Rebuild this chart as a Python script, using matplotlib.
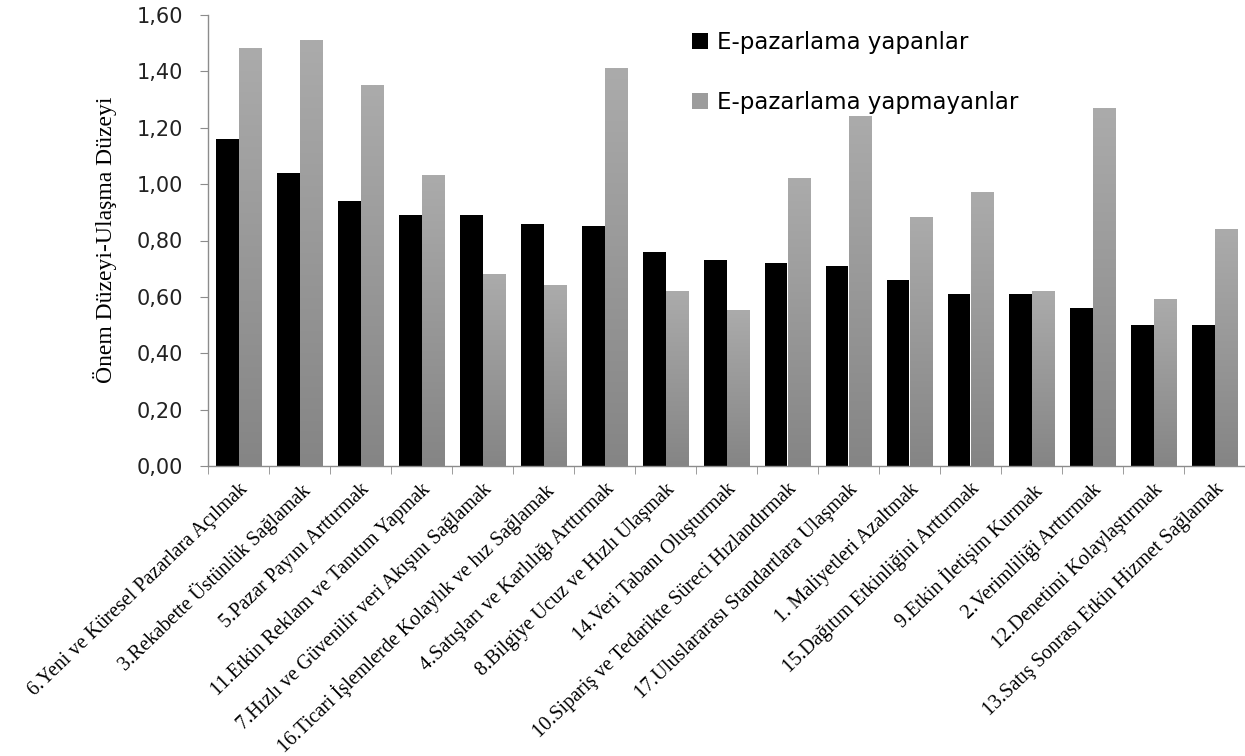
import numpy as np
import matplotlib
matplotlib.use("Agg")
import matplotlib.pyplot as plt
from matplotlib.colors import LinearSegmentedColormap
from matplotlib.patches import Patch

# ----------------------------------------------------------------------
# Data
# ----------------------------------------------------------------------
categories = [
    "6.Yeni ve Küresel Pazarlara Açılmak",
    "3.Rekabette Üstünlük Sağlamak",
    "5.Pazar Payını Arttırmak",
    "11.Etkin Reklam ve Tanıtım Yapmak",
    "7.Hızlı ve Güvenilir veri Akışını Sağlamak",
    "16.Ticari İşlemlerde Kolaylık ve hız Sağlamak",
    "4.Satışları ve Karlılığı Arttırmak",
    "8.Bilgiye Ucuz ve Hızlı Ulaşmak",
    "14.Veri Tabanı Oluşturmak",
    "10.Sipariş ve Tedarikte Süreci Hızlandırmak",
    "17.Uluslararası Standartlara Ulaşmak",
    "1. Maliyetleri Azaltmak",
    "15.Dağıtım Etkinliğini Arttırmak",
    "9.Etkin İletişim Kurmak",
    "2.Verimliliği Arttırmak",
    "12.Denetimi Kolaylaştırmak",
    "13.Satış Sonrası Etkin Hizmet Sağlamak",
]
yapanlar = [1.16, 1.04, 0.94, 0.89, 0.89, 0.86, 0.85, 0.76, 0.73,
            0.72, 0.71, 0.66, 0.61, 0.61, 0.56, 0.50, 0.50]
yapmayanlar = [1.48, 1.51, 1.35, 1.03, 0.68, 0.64, 1.41, 0.62, 0.55,
               1.02, 1.24, 0.88, 0.97, 0.62, 1.27, 0.59, 0.84]
series_names = ["E-pazarlama yapanlar", "E-pazarlama yapmayanlar"]
y_ticks = [0.0, 0.2, 0.4, 0.6, 0.8, 1.0, 1.2, 1.4, 1.6]
y_tick_labels = ["0,00", "0,20", "0,40", "0,60", "0,80",
                 "1,00", "1,20", "1,40", "1,60"]
y_title = "Önem Düzeyi-Ulaşma Düzeyi"

SANS = ["DejaVu Sans"]
SERIF = ["Liberation Serif", "DejaVu Serif"]


def main():
    fig = plt.figure(figsize=(12.45, 7.56), dpi=100)
    ax = fig.add_axes([208 / 1245, 1 - 466 / 756, 1 - 208 / 1245, 451 / 756])

    x = np.arange(len(categories))
    w = 0.37

    ax.bar(x - w / 2, yapanlar, width=w, color="black", zorder=2)

    # gray bars with a vertical gradient (light top, darker bottom)
    grad = LinearSegmentedColormap.from_list("g", ["#858585", "#ababab"])
    ramp = np.linspace(0, 1, 256).reshape(-1, 1)
    for xi, h in zip(x, yapmayanlar):
        ax.imshow(ramp, cmap=grad, origin="lower", aspect="auto",
                  extent=[xi, xi + w, 0, h], zorder=2)

    ax.set_xlim(-0.5, len(categories) - 0.5)
    ax.set_ylim(0, 1.6)

    # spines
    for s in ["top", "right"]:
        ax.spines[s].set_visible(False)
    for s in ["left", "bottom"]:
        ax.spines[s].set_color("#8c8c8c")
        ax.spines[s].set_linewidth(1.0)

    ax.set_yticks(y_ticks)
    ax.set_yticklabels(y_tick_labels, family=SANS, fontsize=15, color="#222222")
    ax.tick_params(axis="y", length=6, color="#8c8c8c", pad=12)

    ax.set_xticks(x)
    ax.set_xticklabels(categories, family=SERIF, fontsize=14.5, rotation=44,
                       ha="right", rotation_mode="anchor")
    ax.tick_params(axis="x", which="major", length=0, pad=10)
    ax.set_xticks(np.arange(len(categories) + 1) - 0.5, minor=True)
    ax.tick_params(axis="x", which="minor", length=6, color="#8c8c8c")

    fig.text(105 / 1245, 1 - 240 / 756, y_title, family=SERIF, fontsize=17,
             rotation=90, ha="center", va="center")

    handles = [Patch(facecolor="black"), Patch(facecolor="#9c9c9c")]
    fig.legend(handles, series_names, loc="upper left",
               bbox_to_anchor=(692 / 1245, 1 - 31 / 756),
               frameon=False, prop={"family": SANS, "size": 16.5},
               handlelength=0.7, handleheight=0.7, handletextpad=0.4,
               labelspacing=1.6, borderpad=0, borderaxespad=0)

    fig.savefig("out.png", dpi=100)


if __name__ == "__main__":
    main()
